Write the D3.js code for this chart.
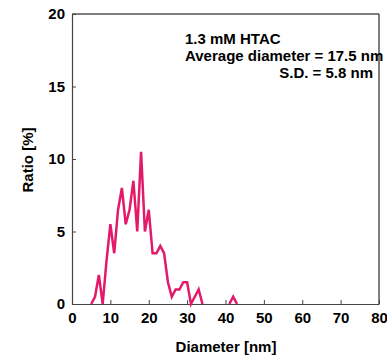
<!DOCTYPE html>
<html>
<head>
<meta charset="utf-8">
<script src="https://cdn.jsdelivr.net/npm/d3@7"></script>
<style>
  body { margin: 0; background: #fff; }
  text { font-family: "Liberation Sans", Arial, sans-serif; font-weight: bold; }
</style>
</head>
<body>
<svg id="chart" width="387" height="358"></svg>
<script>
// diameter (nm) and ratio (%) - null = no line drawn
let diameters = [5, 6, 7, 8, 9, 10, 11, 12, 13, 14, 15, 16, 17, 18, 19, 20, 21, 22, 23, 24,
                 25, 26, 27, 28, 29, 30, 31, 32, 33, 34, 35, 41, 42, 43];
let ratios = [0, 0.5, 2, 0, 3, 5.5, 3.5, 6.5, 8, 5.5, 6.5, 8.5, 5, 10.5, 5, 6.5, 3.5, 3.5, 4, 3.5,
              1.5, 0.5, 1, 1, 1.5, 1.5, 0, 0.5, 1, 0, null, 0, 0.5, 0];
let xTicks = [0, 10, 20, 30, 40, 50, 60, 70, 80];
let yTicks = [0, 5, 10, 15, 20];
let notes = ["1.3 mM HTAC", "Average diameter = 17.5 nm", "S.D. = 5.8 nm"];

let mLeft = 72, mRight = 379, mTop = 14, mBottom = 304;

let svg = d3.select("#chart");

let x = d3.scaleLinear().domain([0, 80]).range([mLeft, mRight]);
let y = d3.scaleLinear().domain([0, 20]).range([mBottom, mTop]);

let lineData = diameters.map(function(d, i) { return {d: d, r: ratios[i]}; });

// frame
svg.append("line")
	.attr("x1", mLeft).attr("x2", mRight).attr("y1", mTop).attr("y2", mTop)
	.attr("stroke", "#000").attr("stroke-width", 1);
svg.append("line")
	.attr("x1", mRight).attr("x2", mRight).attr("y1", mTop).attr("y2", mBottom)
	.attr("stroke", "#000").attr("stroke-width", 1);

// axes
let xAxis = svg.append("g")
	.attr("transform", "translate(0," + mBottom + ")")
	.call(d3.axisBottom(x).tickValues(xTicks).tickSizeInner(-4).tickSizeOuter(0).tickPadding(8));
let yAxis = svg.append("g")
	.attr("transform", "translate(" + mLeft + ",0)")
	.call(d3.axisLeft(y).tickValues(yTicks).tickSizeInner(-4).tickSizeOuter(0).tickPadding(7));

[xAxis, yAxis].forEach(function(a) {
	a.select(".domain").attr("stroke", "#444").attr("stroke-width", 1.2);
	a.selectAll(".tick line").attr("stroke", "#444");
	a.selectAll(".tick text")
		.attr("fill", "#000")
		.style("font-family", "'Liberation Sans', Arial, sans-serif")
		.style("font-weight", "bold")
		.style("font-size", "15px");
});
xAxis.selectAll(".tick text").attr("dy", "0.71em");

// data line
let valueline = d3.line()
	.defined(function(p) { return p.r !== null; })
	.x(function(p) { return x(p.d); })
	.y(function(p) { return y(p.r); });

svg.append("path")
	.attr("d", valueline(lineData))
	.attr("fill", "none")
	.attr("stroke", "#e3196a")
	.attr("stroke-width", 2.5)
	.attr("stroke-linejoin", "miter");

// annotation
svg.append("text").attr("x", 185).attr("y", 43.5).style("font-size", "15px").text(notes[0]);
svg.append("text").attr("x", 185).attr("y", 60.5).style("font-size", "15px").text(notes[1]);
svg.append("text").attr("x", 373).attr("y", 78).style("font-size", "15px")
	.style("text-anchor", "end").text(notes[2]);

// axis labels
svg.append("text")
	.attr("x", 226)
	.attr("y", 352)
	.style("text-anchor", "middle")
	.style("font-size", "15px")
	.text("Diameter [nm]");

svg.append("text")
	.attr("transform", "translate(33,160) rotate(-90)")
	.style("text-anchor", "middle")
	.style("font-size", "15px")
	.text("Ratio [%]");
</script>
</body>
</html>
